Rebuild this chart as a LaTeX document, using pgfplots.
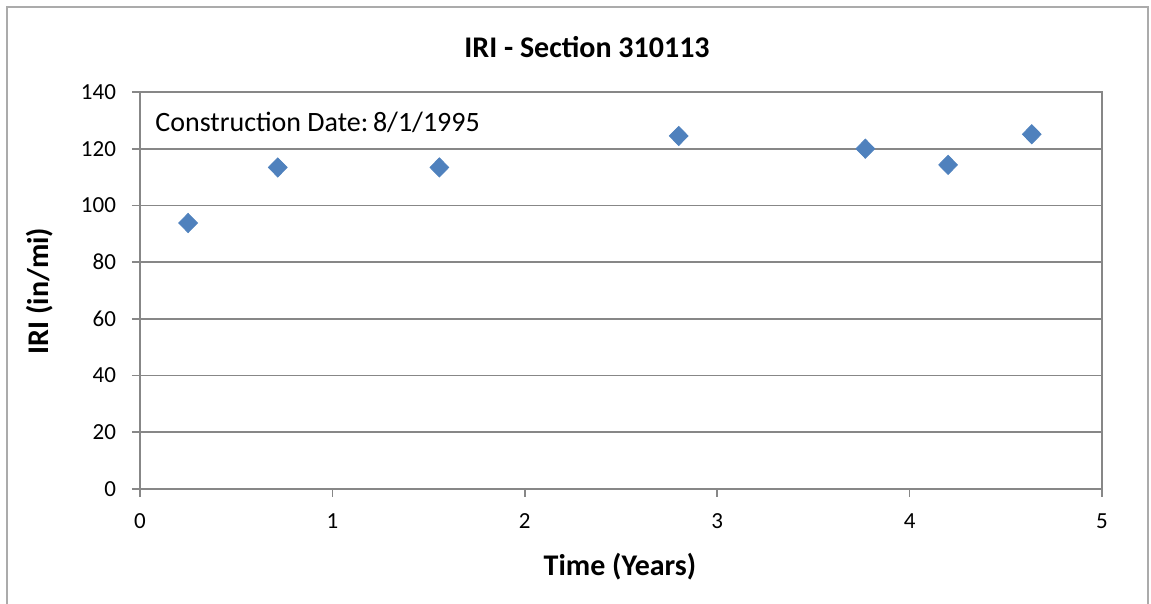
\documentclass[border=0pt]{standalone}
\usepackage{pgfplots}
\pgfplotsset{compat=1.18}
\usepackage{fontspec}
\setmainfont{Carlito}
\definecolor{xlblue}{HTML}{4F81BD}
\definecolor{xlgrid}{HTML}{878787}
\begin{document}
\begin{tikzpicture}
% 1 px of the reference = 0.5pt; axis box bottom-left at origin
\path[use as bounding box] (-70pt,-57.5pt) rectangle (505.5pt,244.5pt);
\draw[xlgrid!70, line width=0.8pt] (-66.5pt,-60pt) -- (-66.5pt,241pt) -- (504pt,241pt) -- (504pt,-60pt);
\begin{axis}[
  at={(0,0)}, anchor=origin,
  scale only axis,
  width=481pt, height=198.5pt,
  xmin=0, xmax=5, ymin=0, ymax=140,
  xtick={0,1,...,5}, ytick={0,20,...,140},
  xtick pos=bottom, ytick pos=left,
  axis line style={xlgrid, line width=0.8pt},
  tick style={xlgrid, line width=0.8pt},
  major tick length=4pt,
  tick align=outside,
  ymajorgrids,
  grid style={xlgrid, line width=0.8pt},
  tick label style={font=\fontsize{11.5}{13}\selectfont, text=black},
  /pgf/number format/assume math mode=true,
  xticklabel style={yshift=-5pt},
  yticklabel style={xshift=-4.5pt},
  title={\textbf{IRI - Section 310113}},
  title style={font=\fontsize{15}{18}\selectfont, at={(223.5pt,215pt)}, anchor=center},
  xlabel={\textbf{Time (Years)}},
  xlabel style={font=\fontsize{15}{18}\selectfont, at={(240pt,-39pt)}, anchor=center},
  ylabel={\textbf{IRI (in/mi)}},
  ylabel style={font=\fontsize{15}{18}\selectfont, at={(-50pt,99pt)}, anchor=center},
  clip=false,
]
\addplot[only marks, mark=diamond*, mark size=4.8pt,
  mark options={xscale=1.3, fill=xlblue, draw=xlblue}]
  coordinates {
  (0.25,93.8) (0.716,113.4) (1.556,113.4) (2.80,124.5)
  (3.77,120.0) (4.20,114.3) (4.635,125.1)
  };
\node[anchor=west, font=\fontsize{14}{16}\selectfont, inner sep=0pt] at (rel axis cs:0.0156,0.924) {Construction Date:\,8/1/1995};
\end{axis}
\end{tikzpicture}
\end{document}
